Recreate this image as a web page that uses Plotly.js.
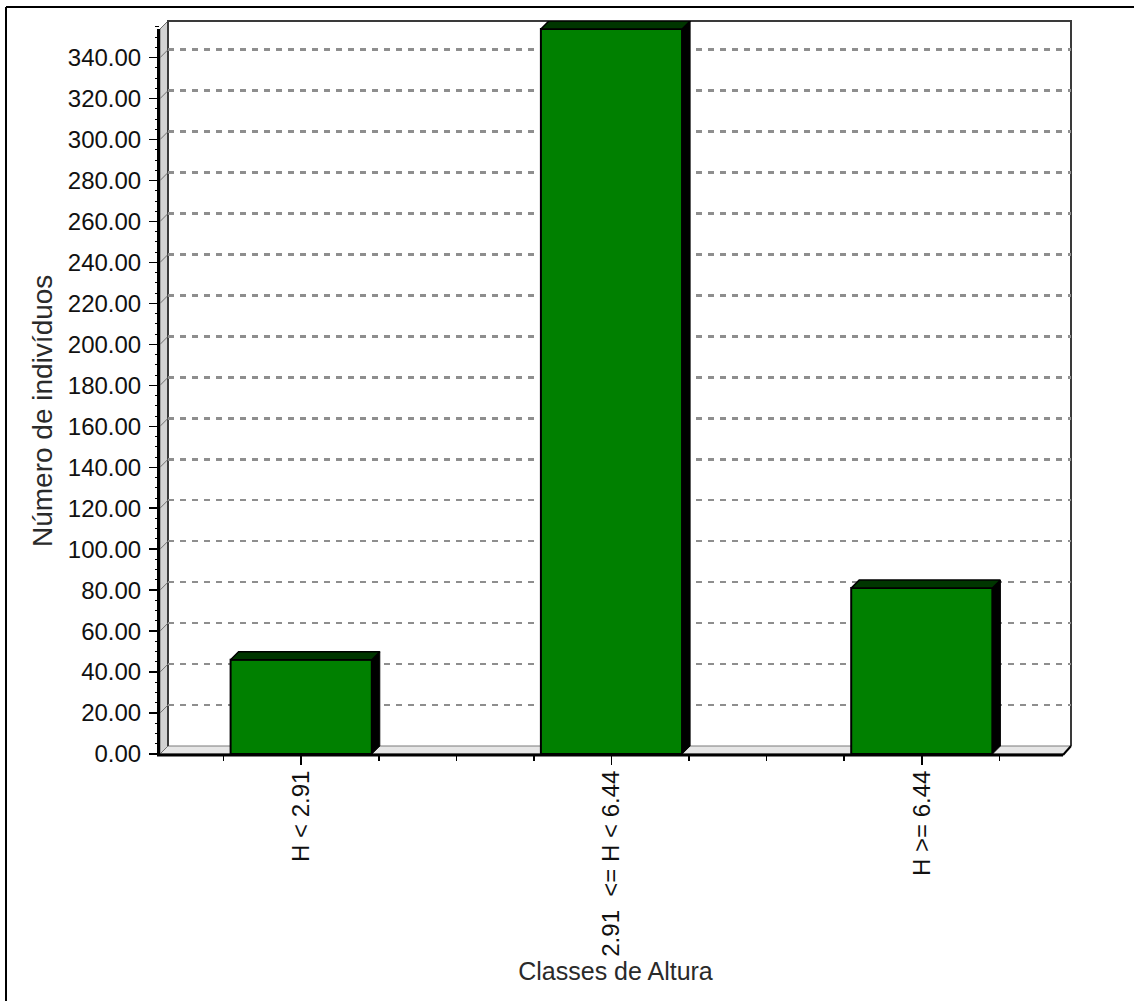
<!DOCTYPE html>
<html>
<head>
<meta charset="utf-8">
<script src="https://cdn.plot.ly/plotly-3.0.1.min.js"></script>
<style>
  html, body { margin: 0; padding: 0; background: #ffffff; }
  #chart { width: 1134px; height: 1001px; }
</style>
</head>
<body>
<div id="chart"></div>
<script>
// Height classes and number of individuals per class
const classes = ['H < 2.91', '2.91\u00a0\u00a0<= H < 6.44', 'H >= 6.44'];
const counts = [46, 354, 81];
const yStep = 20;

// Page geometry (pixels): front plane of the 3D box and its depth
const W = 1134, H = 1001;
const FL = 160, FR = 1063, FT = 29, FB = 754;
const DEPTH = 8;
const XPAD = 0.455;      // category padding at each end
const BAR_W = 0.455;     // bar width in category units

const PW = FR + DEPTH - FL;   // plotting width incl. depth
const PH = FB - FT + DEPTH;   // plotting height incl. depth
const px = x => (x - FL) / PW;
const py = y => (FB - y) / PH;

const n = classes.length;
const idx = classes.map((_, i) => i);
const yMax = Math.max(...counts);
const xSpan = (n - 1) + 2 * XPAD;
const dxu = DEPTH * xSpan / (PW - DEPTH);   // depth in x units
const dyu = DEPTH * yMax / (PH - DEPTH);    // depth in y units

const font = 'Liberation Sans, Arial, sans-serif';

const traces = [
  // invisible series on the back-wall axes so that their dashed grid is drawn
  {
    type: 'scatter', mode: 'markers', x: idx, y: counts,
    xaxis: 'x', yaxis: 'y',
    marker: { opacity: 0, size: 1 },
    hoverinfo: 'skip', showlegend: false
  },
  // front faces of the bars
  {
    type: 'bar',
    x: idx,
    y: counts,
    width: BAR_W,
    xaxis: 'x2', yaxis: 'y2',
    marker: { color: '#008000', line: { color: '#000000', width: 2 } },
    hoverinfo: 'y',
    showlegend: false
  }
];

// Top and side faces giving each bar its depth
counts.forEach((v, i) => {
  const l = i - BAR_W / 2, r = i + BAR_W / 2;
  traces.push({
    type: 'scatter', mode: 'lines', xaxis: 'x2', yaxis: 'y2',
    x: [r, r + dxu, r + dxu, r, r],
    y: [0, dyu, v + dyu, v, 0],
    fill: 'toself', fillcolor: '#000000',
    line: { color: '#000000', width: 1 },
    hoverinfo: 'skip', showlegend: false
  });
  traces.push({
    type: 'scatter', mode: 'lines', xaxis: 'x2', yaxis: 'y2',
    x: [l, r, r + dxu, l + dxu, l],
    y: [v, v, v + dyu, v + dyu, v],
    fill: 'toself', fillcolor: '#003600',
    line: { color: '#000000', width: 1.5 },
    hoverinfo: 'skip', showlegend: false
  });
});

// Walls, floor and frame of the 3D box
const shapes = [
  // left side wall
  { type: 'path', xref: 'paper', yref: 'paper', layer: 'below',
    path: `M${px(FL)},${py(FB)} L${px(FL)},${py(FT)} L${px(FL + DEPTH)},${py(FT - DEPTH)} L${px(FL + DEPTH)},${py(FB - DEPTH)} Z`,
    fillcolor: '#d2d2d2', line: { color: '#6a6a6a', width: 1 } },
  // floor
  { type: 'path', xref: 'paper', yref: 'paper', layer: 'below',
    path: `M${px(FL)},${py(FB)} L${px(FL + DEPTH)},${py(FB - DEPTH)} L${px(FR + DEPTH)},${py(FB - DEPTH)} L${px(FR)},${py(FB)} Z`,
    fillcolor: '#e6e6e6', line: { color: '#7a7a7a', width: 1 } },
  // back wall border
  { type: 'path', xref: 'paper', yref: 'paper', layer: 'below',
    path: `M${px(FL + DEPTH)},${py(FB - DEPTH)} L${px(FL + DEPTH)},${py(FT - DEPTH)} L${px(FR + DEPTH)},${py(FT - DEPTH)} L${px(FR + DEPTH)},${py(FB - DEPTH)}`,
    line: { color: '#3a3a3a', width: 2 } },
  // front vertical axis line
  { type: 'line', xref: 'paper', yref: 'paper', layer: 'above',
    x0: px(FL - 1.5), x1: px(FL - 1.5), y0: py(FB + 1.5), y1: py(FT),
    line: { color: '#000000', width: 3 } },
  // front floor edge
  { type: 'line', xref: 'paper', yref: 'paper', layer: 'above',
    x0: px(FL - 3), x1: px(FR), y0: py(FB + 1), y1: py(FB + 1),
    line: { color: '#000000', width: 3 } },
  // right floor corner
  { type: 'line', xref: 'paper', yref: 'paper', layer: 'above',
    x0: px(FR), x1: px(FR + DEPTH), y0: py(FB + 1), y1: py(FB - DEPTH),
    line: { color: '#000000', width: 2 } },
  // outer frame
  { type: 'line', xref: 'paper', yref: 'paper', layer: 'above',
    x0: px(6), x1: px(W + 2), y0: py(7), y1: py(7),
    line: { color: '#000000', width: 2 } },
  { type: 'line', xref: 'paper', yref: 'paper', layer: 'above',
    x0: px(6), x1: px(6), y0: py(7), y1: py(H + 2),
    line: { color: '#000000', width: 2 } }
];

// small connectors on the side wall at each major tick
for (let v = 0; v <= yMax; v += yStep) {
  const yy = FB - v * (FB - FT) / yMax;
  shapes.push({ type: 'line', xref: 'paper', yref: 'paper', layer: 'below',
    x0: px(FL), x1: px(FL + DEPTH), y0: py(yy), y1: py(yy - DEPTH),
    line: { color: '#707070', width: 1 } });
}

const layout = {
  width: W, height: H,
  margin: { l: FL, r: W - (FR + DEPTH), t: FT - DEPTH, b: H - FB, pad: 0 },
  paper_bgcolor: '#ffffff',
  plot_bgcolor: 'rgba(0,0,0,0)',
  showlegend: false,
  font: { family: font, color: '#000000' },
  // back wall: carries the dashed grid
  xaxis: {
    domain: [DEPTH / PW, 1], range: [-XPAD, n - 1 + XPAD],
    showgrid: false, zeroline: false, showline: false,
    showticklabels: false, ticks: '', fixedrange: true
  },
  yaxis: {
    domain: [DEPTH / PH, 1], range: [0, yMax],
    anchor: 'x',
    tickmode: 'linear', tick0: 0, dtick: yStep,
    showgrid: true, gridcolor: '#8e8e8e', gridwidth: 2.5, griddash: '6px,6px',
    zeroline: false, showline: false,
    showticklabels: false, ticks: '', fixedrange: true
  },
  // front plane: ticks, labels and the bars
  xaxis2: {
    domain: [0, 1], anchor: 'y2',
    range: [-XPAD, n - 1 + XPAD + dxu],
    tickmode: 'array', tickvals: idx, ticktext: classes,
    tickangle: -90,
    ticks: 'outside', ticklen: 10, tickwidth: 1.5, tickcolor: '#000000',
    minor: { tickmode: 'linear', tick0: 0, dtick: 0.25, ticks: 'outside', ticklen: 6, tickwidth: 1.5, tickcolor: '#000000' },
    ticklabelstandoff: -4,
    tickfont: { family: font, size: 24, color: '#111111' },
    showgrid: false, zeroline: false, showline: false,
    title: { text: 'Classes de Altura', standoff: 2, font: { family: font, size: 25, color: '#2a2a2a' } },
    fixedrange: true
  },
  yaxis2: {
    domain: [0, 1], anchor: 'x2',
    range: [0, yMax + dyu],
    tick0: 0, dtick: yStep, tickformat: '.2f',
    ticks: 'outside', ticklen: 10, tickwidth: 1.5, tickcolor: '#000000',
    minor: { tick0: 0, dtick: yStep / 4, ticks: 'outside', ticklen: 4, tickwidth: 1, tickcolor: '#000000' },
    ticklabelstandoff: 3,
    tickfont: { family: font, size: 24, color: '#111111' },
    showgrid: false, zeroline: false, showline: false,
    fixedrange: true
  },
  annotations: [{
    xref: 'paper', yref: 'paper', x: px(42), y: py(411),
    text: 'Número de indivíduos', textangle: -90, showarrow: false,
    xanchor: 'center', yanchor: 'middle',
    font: { family: font, size: 28, color: '#2a2a2a' }
  }],
  shapes: shapes
};

Plotly.newPlot('chart', traces, layout, { displayModeBar: false, staticPlot: true });
</script>
</body>
</html>
